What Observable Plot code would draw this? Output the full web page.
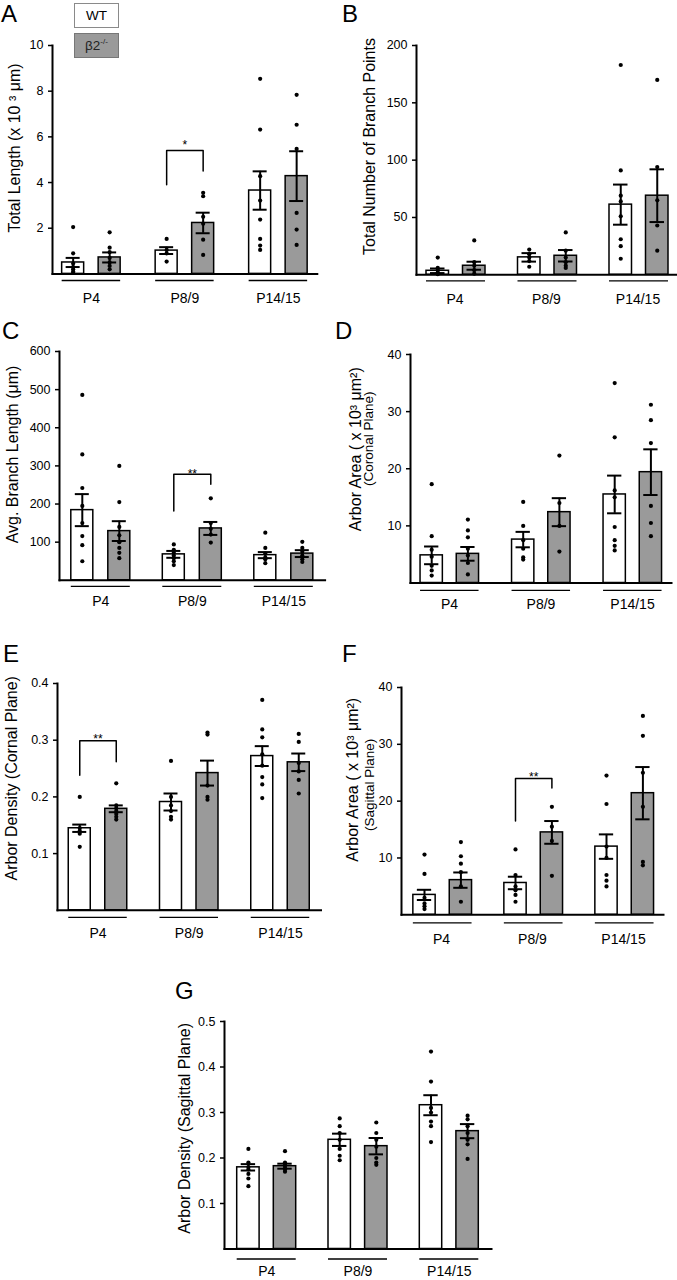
<!DOCTYPE html>
<html><head><meta charset="utf-8">
<script src="https://cdn.jsdelivr.net/npm/d3@7"></script>
<script src="https://cdn.jsdelivr.net/npm/@observablehq/plot@0.6"></script>
<style>
body{margin:0;background:#fff;}
#fig{position:relative;width:677px;height:1280px;overflow:hidden;font-family:"Liberation Sans",Arial,sans-serif;color:#000;}
.panel{position:absolute;}
.letter{position:absolute;font-size:24px;line-height:20px;}
.leg{position:absolute;left:74px;width:45px;height:25px;box-sizing:border-box;text-align:center;font-size:13.5px;line-height:23px;}
.leg sup{font-size:8px;vertical-align:6px;line-height:0;}
</style></head><body><div id="fig"></div>
<script>
const ages = ["P4", "P8/9", "P14/15"];
const genotypes = ["WT", "β2-/-"];

// A: total length (x10^3 µm); order WT/β2 for P4, P8/9, P14/15
const lengthMeans = [0.5, 0.72, 1.02, 2.23, 3.65, 4.28];
const lengthSem = [0.2, 0.22, 0.15, 0.45, 0.84, 1.09];
const lengthDots = [
  [2.05, 0.9, 0.45, 0.3, 0.2, 0.1, 0.05],
  [1.82, 1.15, 0.95, 0.7, 0.5, 0.35, 0.2],
  [1.53, 1.05, 0.9, 0.54],
  [3.55, 3.4, 2.5, 2.2, 1.5, 0.83],
  [8.54, 6.32, 4.28, 3.21, 2.38, 1.53, 1.24, 1.05],
  [7.84, 6.53, 5.47, 2.67, 1.94, 1.27]
];
const lengthTicks = [2, 4, 6, 8, 10];

// B: total number of branch points
const branchMeans = [3.5, 7.9, 15.2, 16.6, 61.2, 69];
const branchSem = [2, 3.5, 3.7, 5, 17.5, 23];
const branchDots = [
  [15, 6, 4, 2, 1, 0.5],
  [30, 11, 8, 4, 1],
  [22, 18, 15, 12, 7],
  [37, 21, 15, 11, 8, 6],
  [183, 91, 69, 64, 51, 31, 25, 14],
  [170, 94, 65, 43, 21]
];
const branchTicks = [50, 100, 150, 200];

// C: avg. branch length (µm)
const avgLenMeans = [184, 129, 68, 136, 66, 70];
const avgLenSem = [42, 26, 9, 17, 8, 9];
const avgLenDots = [
  [486, 330, 242, 195, 150, 116, 92, 50],
  [300, 205, 140, 118, 100, 85, 72, 58],
  [94, 80, 72, 65, 58, 50, 40],
  [215, 150, 135, 120, 99],
  [125, 85, 70, 60, 55, 45],
  [101, 85, 75, 65, 55, 48]
];
const avgLenTicks = [100, 200, 300, 400, 500, 600];

// D: arbor area, coronal (x10^3 µm²)
const corAreaMeans = [4.84, 5.1, 7.6, 12.4, 15.5, 19.4];
const corAreaSem = [1.55, 1.2, 1.35, 2.45, 3.3, 4.0];
const corAreaDots = [
  [17.3, 8.2, 5.8, 4.6, 3.0, 2.2, 1.3],
  [11.1, 9.2, 8.0, 6.0, 4.8, 3.5, 1.5],
  [14.2, 10, 7.5, 6, 4.5, 4.1],
  [22.3, 14, 10, 5.5],
  [35, 25.5, 16.2, 15, 9.8, 7.5, 6.5, 5.7],
  [31.2, 28.5, 24.5, 13.5, 10.5, 8.2]
];
const areaTicks = [10, 20, 30, 40];

// E: arbor density, coronal
const corDensMeans = [0.1447, 0.179, 0.191, 0.242, 0.272, 0.261];
const corDensSem = [0.0065, 0.006, 0.015, 0.022, 0.0175, 0.0155];
const corDensDots = [
  [0.2, 0.145, 0.14, 0.135, 0.112],
  [0.224, 0.185, 0.18, 0.175, 0.17, 0.165, 0.16],
  [0.2635, 0.2, 0.185, 0.175, 0.165, 0.16],
  [0.3135, 0.31, 0.22, 0.2, 0.195],
  [0.371, 0.319, 0.305, 0.275, 0.255, 0.235, 0.222, 0.198],
  [0.311, 0.297, 0.26, 0.245, 0.23, 0.206]
];
const corDensTicks = [0.1, 0.2, 0.3, 0.4];

// F: arbor area, sagittal (x10^3 µm²)
const sagAreaMeans = [3.5, 6.1, 5.6, 14.5, 12, 21.4];
const sagAreaSem = [0.9, 1.35, 1.1, 2.0, 2.15, 4.6];
const sagAreaDots = [
  [10.6, 7.2, 3, 2, 1.5, 1],
  [12.8, 10.3, 9, 7.5, 5, 2.3],
  [11.5, 7, 5, 4.3, 3.5, 2.3],
  [19, 15.5, 13, 6.85],
  [24.5, 19.5, 12, 10, 7, 6, 5],
  [35, 31.5, 25, 19, 9.3, 8.7]
];

// G: arbor density, sagittal
const sagDensMeans = [0.1795, 0.182, 0.24, 0.226, 0.316, 0.259];
const sagDensSem = [0.007, 0.0055, 0.0135, 0.018, 0.022, 0.0155];
const sagDensDots = [
  [0.22, 0.19, 0.18, 0.175, 0.165, 0.155, 0.138],
  [0.215, 0.19, 0.185, 0.18, 0.175, 0.17],
  [0.287, 0.27, 0.255, 0.24, 0.22, 0.205, 0.195],
  [0.278, 0.255, 0.24, 0.225, 0.2, 0.19, 0.185],
  [0.434, 0.368, 0.31, 0.3, 0.28, 0.27, 0.235],
  [0.293, 0.285, 0.27, 0.255, 0.24, 0.23, 0.198]
];
const sagDensTicks = [0.1, 0.2, 0.3, 0.4, 0.5];

// significance brackets
const sigA = {age: "P8/9", top: 5.4, wtLeg: 3.9, koLeg: 4.5, mark: "*"};
const sigC = {age: "P8/9", top: 278, wtLeg: 182, koLeg: 252, mark: "**"};
const sigE = {age: "P4", top: 0.299, wtLeg: 0.238, koLeg: 0.262, mark: "**"};
const sigF = {age: "P8/9", top: 24, wtLeg: 16.5, koLeg: 22.3, mark: "**"};

// ---------- layout (pixels) ----------
const panels = [
  {id: "A", left: 0, L: 52, R: 333, top: 45, base: 273.4, c1: 90.9, c3: 277.9, g: 58.5, b: 22, under: 6.6, catPad: 19,
   ymax: 10, ticks: lengthTicks, means: lengthMeans, sem: lengthSem, dots: lengthDots, sig: sigA, starLift: -5,
   labels: [{t: "Total Length (x 10 \u00B3 \u03BCm)", xc: 14, yc: 147.5, fs: 16}], letter: [1, 3.5]},
  {id: "B", left: 330, L: 416, R: 676, top: 45, base: 274.3, c1: 455.5, c3: 638.5, g: 59, b: 22.5, under: 6, catPad: 19,
   ymax: 200, ticks: branchTicks, means: branchMeans, sem: branchSem, dots: branchDots,
   labels: [{t: "Total Number of Branch Points", xc: 369.5, yc: 146, fs: 16}], letter: [342, 3.5]},
  {id: "C", left: 0, L: 59, R: 333, top: 351, base: 579.8, c1: 100.3, c3: 283.3, g: 59, b: 22, under: 6, catPad: 15.5,
   ymax: 600, ticks: avgLenTicks, means: avgLenMeans, sem: avgLenSem, dots: avgLenDots, sig: sigC, starLift: 0,
   labels: [{t: "Avg. Branch Length (\u03BCm)", xc: 12.5, yc: 454, fs: 16}], letter: [2, 321]},
  {id: "D", left: 330, L: 410, R: 671, top: 354.3, base: 582.8, c1: 449.3, c3: 632.3, g: 58.5, b: 22.3, under: 7.3, catPad: 16,
   ymax: 40, ticks: areaTicks, means: corAreaMeans, sem: corAreaSem, dots: corAreaDots,
   labels: [{t: "Arbor Area ( x 10\u00B3 \u03BCm\u00B2)", xc: 355, yc: 449, fs: 16},
            {t: "(Coronal Plane)", xc: 368, yc: 438.5, fs: 13.5}], letter: [335, 321]},
  {id: "E", left: 0, L: 57, R: 335, top: 682.7, base: 909.5, c1: 97.5, c3: 280, g: 58.5, b: 22, under: 7, catPad: 18,
   ymax: 0.4, ticks: corDensTicks, means: corDensMeans, sem: corDensSem, dots: corDensDots, sig: sigE, starLift: -2,
   labels: [{t: "Arbor Density (Cornal Plane)", xc: 11.5, yc: 777.5, fs: 16}], letter: [3, 644]},
  {id: "F", left: 330, L: 401, R: 663, top: 686.7, base: 914, c1: 442.2, c3: 624.2, g: 58.7, b: 22.3, under: 8, catPad: 19,
   ymax: 40, ticks: areaTicks, means: sagAreaMeans, sem: sagAreaSem, dots: sagAreaDots, sig: sigF, starLift: -1.5,
   labels: [{t: "Arbor Area ( x 10\u00B3 \u03BCm\u00B2)", xc: 352, yc: 779, fs: 16},
            {t: "(Sagittal Plane)", xc: 369, yc: 784, fs: 13.5}], letter: [342, 644]},
  {id: "G", left: 150, L: 224, R: 503, top: 1020.7, base: 1248.2, c1: 266.2, c3: 448.8, g: 59, b: 22.4, under: 10, catPad: 17.5,
   ymax: 0.5, ticks: sagDensTicks, means: sagDensMeans, sem: sagDensSem, dots: sagDensDots,
   labels: [{t: "Arbor Density (Sagittal Plane)", xc: 184.5, yc: 1127.5, fs: 16}], letter: [175, 981]}
];

const FONT = '"Liberation Sans", Arial, sans-serif';
const GRAY = "#9a9a9a";

function barRecords(means, sems) {
  return means.map((m, i) => ({age: ages[Math.floor(i / 2)], genotype: genotypes[i % 2], mean: m, sem: sems[i]}));
}
function dotRecords(dots) {
  return dots.flatMap((vals, i) => vals.map(v => ({age: ages[Math.floor(i / 2)], genotype: genotypes[i % 2], value: v})));
}

function makePanel(p) {
  const mt = 12, mb = 40, mr = p.id === "B" ? 1 : 2;
  const ml = p.L - p.left;
  const W = p.R - p.L;
  const width = ml + W + mr;
  const height = mt + (p.base - p.top) + mb;
  const s = (p.c3 - p.c1) / 2;                 // group spacing
  const lo = p.c1 - p.g / 2 - p.L;             // gap from y axis to first bar
  const w = Math.min(p.g + 2 * lo, W - 2 * s); // facet width
  const fxPi = 1 - w / s;
  const fxPo = (W - w - 2 * s) / (2 * s);
  const pi2 = (p.g - 2 * p.b) / (p.g - p.b);
  const step2 = p.b / (1 - pi2);
  const left2 = w - p.g;
  const po2 = left2 / (2 * step2);
  const align2 = left2 > 0 ? lo / left2 : 0.5;
  const bars = barRecords(p.means, p.sem);
  const pts = dotRecords(p.dots);
  const frameMid = (p.top + p.base) / 2;

  const marks = [
    Plot.barY(bars, {fx: "age", x: "genotype", y: "mean",
      fill: d => d.genotype === "WT" ? "white" : GRAY, stroke: "black", strokeWidth: 1.5}),
    Plot.dot(pts, {fx: "age", x: "genotype", y: "value", r: 2.1, fill: "black", stroke: "none"}),
    Plot.ruleX(bars, {fx: "age", x: "genotype", y1: d => d.mean - d.sem, y2: d => d.mean + d.sem, stroke: "black", strokeWidth: 2}),
    Plot.tickY(bars, {fx: "age", x: "genotype", y: d => d.mean + d.sem, stroke: "black", strokeWidth: 2, insetLeft: 4, insetRight: 4}),
    Plot.tickY(bars, {fx: "age", x: "genotype", y: d => d.mean - d.sem, stroke: "black", strokeWidth: 2, insetLeft: 4, insetRight: 4}),
    Plot.ruleY(ages, {fx: d => d, y: () => 0, x1: () => genotypes[0], x2: () => genotypes[1], dy: p.under, stroke: "black", strokeWidth: 1.3}),
    Plot.frame({anchor: "left", facet: "super", stroke: "black", strokeWidth: 2}),
    Plot.frame({anchor: "bottom", facet: "super", stroke: "black", strokeWidth: 2}),
    Plot.axisY({ticks: p.ticks, tickFormat: d => String(d), tickSize: 4, tickPadding: 5, fontSize: 12.5, label: null, strokeWidth: 1.5}),
    Plot.axisFx({anchor: "bottom", tickSize: 0, tickPadding: p.catPad, fontSize: 14, label: null})
  ];
  for (const lab of p.labels) {
    marks.push(Plot.text([lab.t], {facet: "super", frameAnchor: "left", rotate: -90, text: d => d,
      textAnchor: "middle", lineAnchor: "middle", fontSize: lab.fs,
      dx: lab.xc - p.L, dy: lab.yc - frameMid}));
  }
  if (p.sig) {
    const sg = p.sig;
    const path = [
      {age: sg.age, genotype: genotypes[0], value: sg.wtLeg},
      {age: sg.age, genotype: genotypes[0], value: sg.top},
      {age: sg.age, genotype: genotypes[1], value: sg.top},
      {age: sg.age, genotype: genotypes[1], value: sg.koLeg}
    ];
    marks.push(Plot.line(path, {fx: "age", x: "genotype", y: "value", stroke: "black", strokeWidth: 1.5}));
    marks.push(Plot.text([sg], {fx: "age", y: "top", text: "mark", fontSize: 12, lineAnchor: "middle", dy: p.starLift,
      dx: (lo + p.g / 2) - w / 2}));
  }
  return Plot.plot({
    width, height, marginTop: mt, marginBottom: mb, marginLeft: ml, marginRight: mr,
    x: {domain: genotypes, paddingInner: pi2, paddingOuter: po2, align: align2, round: false, axis: null},
    fx: {domain: ages, paddingInner: fxPi, paddingOuter: fxPo, align: 0, round: false},
    y: {domain: [0, p.ymax]},
    style: {background: "transparent", overflow: "visible", fontFamily: FONT, maxWidth: "none", color: "black"},
    marks
  });
}

const fig = document.getElementById("fig");
for (const p of panels) {
  const div = document.createElement("div");
  div.className = "panel";
  div.style.left = p.left + "px";
  div.style.top = (p.top - 12) + "px";
  div.appendChild(makePanel(p));
  fig.appendChild(div);
  const let_ = document.createElement("div");
  let_.className = "letter";
  let_.style.left = p.letter[0] + "px";
  let_.style.top = p.letter[1] + "px";
  let_.textContent = p.id;
  fig.appendChild(let_);
}
// legend
const legWT = document.createElement("div");
legWT.className = "leg";
legWT.style.top = "3px";
legWT.style.background = "white";
legWT.style.border = "1px solid #8a8a8a";
legWT.textContent = genotypes[0];
fig.appendChild(legWT);
const legKO = document.createElement("div");
legKO.className = "leg";
legKO.style.top = "33px";
legKO.style.background = GRAY;
legKO.style.border = "1px solid #777";
legKO.style.color = "#222";
legKO.innerHTML = "\u03B22<sup>-/-</sup>";
fig.appendChild(legKO);
</script></body></html>
